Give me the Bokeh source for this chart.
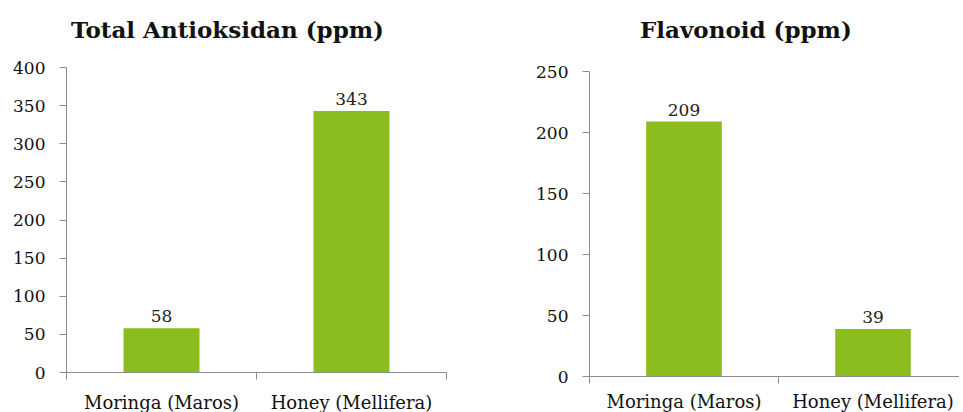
from bokeh.plotting import figure
from bokeh.layouts import row, column
from bokeh.models import FixedTicker, ColumnDataSource, Range1d, Div
from bokeh.embed import file_html
from bokeh.resources import INLINE
from bokeh.core.properties import value

categories = ["Moringa (Maros)", "Honey (Mellifera)"]
antioksidan = [58, 343]
flavonoid = [209, 39]
title_left = "Total Antioksidan (ppm)"
title_right = "Flavonoid (ppm)"
ticks_left = [0, 50, 100, 150, 200, 250, 300, 350, 400]
ticks_right = [0, 50, 100, 150, 200, 250]

FONT = "DejaVu Serif"
GREEN = "#8BBD1E"
AXIS = "#8C8C8C"


def make(values, title, yticks, fw, fh, bl, bt, br, bb, xend, tpad, xstand):
    pos = [i + 0.5 for i in range(len(categories))]
    src = ColumnDataSource(dict(x=pos, top=values, lab=[str(v) for v in values]))
    p = figure(frame_width=fw, frame_height=fh, output_backend="svg", toolbar_location=None,
               x_range=Range1d(0, xend), y_range=Range1d(0, yticks[-1]),
               min_border_left=bl, min_border_top=bt, min_border_right=br, min_border_bottom=bb)
    p.vbar(x="x", top="top", width=0.4, source=src, color=GREEN, line_color=None)
    p.text(x="x", y="top", text="lab", source=src, text_align="center", text_baseline="bottom",
           y_offset=-6, text_font=value(FONT), text_font_size="17px", text_color="#222222")
    p.outline_line_color = None
    p.grid.visible = False
    p.xaxis.ticker = FixedTicker(ticks=pos, minor_ticks=list(range(len(categories) + 1)))
    p.xaxis.major_label_overrides = {x: c for x, c in zip(pos, categories)}
    p.xaxis.major_tick_line_color = None
    p.xaxis.major_tick_out = 0
    p.xaxis.major_tick_in = 0
    p.xaxis.minor_tick_out = 7
    p.xaxis.minor_tick_in = 0
    p.xaxis.minor_tick_line_color = AXIS
    p.xaxis.axis_line_color = AXIS
    p.xaxis.major_label_standoff = xstand
    p.xaxis.major_label_text_font = FONT
    p.xaxis.major_label_text_font_size = "18px"
    p.xaxis.major_label_text_color = "#111111"
    p.yaxis.ticker = FixedTicker(ticks=yticks)
    p.yaxis.minor_tick_line_color = None
    p.yaxis.major_tick_out = 7
    p.yaxis.major_tick_in = 0
    p.yaxis.major_tick_line_color = AXIS
    p.yaxis.axis_line_color = AXIS
    p.yaxis.major_label_standoff = 14
    p.yaxis.major_label_text_font = FONT
    p.yaxis.major_label_text_font_size = "17px"
    p.yaxis.major_label_text_color = "#111111"
    total_w = bl + fw + br
    div = Div(text=('<div style="font-family:\'%s\';font-size:23px;font-weight:bold;'
                    'color:#111111;line-height:60px;padding-left:%dpx;white-space:nowrap">%s</div>'
                    % (FONT, tpad, title)),
              width=total_w, height=44, margin=0)
    return column(div, p, spacing=0)


c1 = make(antioksidan, title_left, ticks_left, 380, 305, 66, 23, 31, 36, 2, 71, 12)
c2 = make(flavonoid, title_right, ticks_right, 370, 305, 112, 27, 0, 32, 370 / 189, 163, 7)

layout = row(c1, c2, spacing=0)
open("out.html", "w").write(file_html(layout, INLINE))
